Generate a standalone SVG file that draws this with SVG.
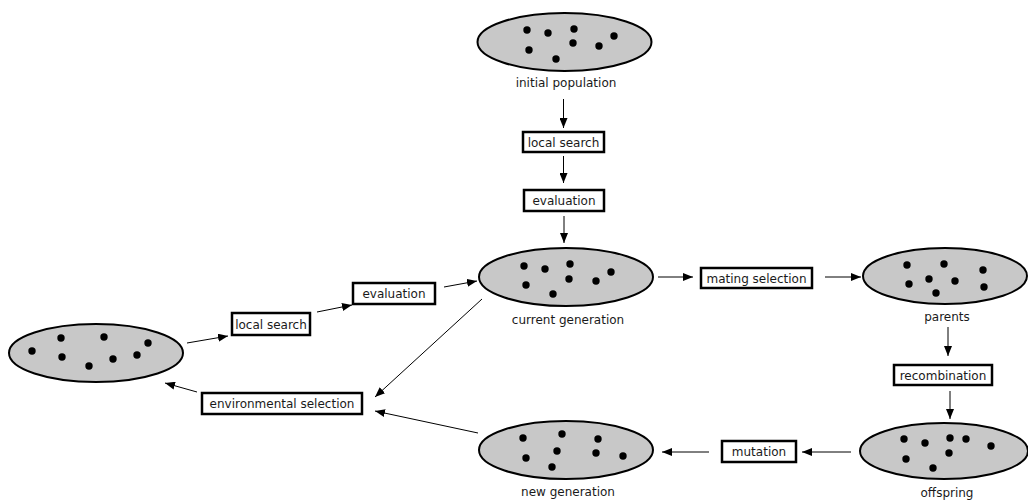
<svg xmlns="http://www.w3.org/2000/svg" width="1028" height="500" viewBox="0 0 1028 500">
<defs>
<marker id="ah" markerWidth="10" markerHeight="8" refX="10" refY="4" orient="auto" markerUnits="userSpaceOnUse">
<path d="M0,0 L10,4 L0,8 Z" fill="#000"/>
</marker>
<style>
.pop{fill:#c8c8c8;stroke:#000;stroke-width:2}
.dot{fill:#000}
.box{fill:#fff;stroke:#000;stroke-width:2.5}
.t{font-family:"DejaVu Sans",Verdana,sans-serif;font-size:12px;fill:#1a1a1a;text-anchor:middle}
.c{stroke:#000;stroke-width:1;fill:none;marker-end:url(#ah)}
circle{r:3.7px}
</style>
</defs>
<rect width="1028" height="500" fill="#fff"/>

<g id="initial-population">
<ellipse class="pop" cx="564.5" cy="42" rx="87" ry="29"/>
<circle class="dot" cx="527" cy="30" r="3.7"/><circle class="dot" cx="548" cy="33" r="3.7"/><circle class="dot" cx="574" cy="29" r="3.7"/><circle class="dot" cx="614" cy="36" r="3.7"/>
<circle class="dot" cx="529" cy="50" r="3.7"/><circle class="dot" cx="573" cy="43" r="3.7"/><circle class="dot" cx="599" cy="46" r="3.7"/><circle class="dot" cx="556" cy="59" r="3.7"/>
<text class="t" x="566" y="87">initial population</text>
</g>

<g id="box-local-search-1">
<rect class="box" x="523" y="132" width="81" height="20"/>
<text class="t" x="563.5" y="146.5">local search</text>
</g>
<g id="box-evaluation-1">
<rect class="box" x="524" y="190" width="80" height="21"/>
<text class="t" x="564" y="205">evaluation</text>
</g>

<g id="current-generation">
<ellipse class="pop" cx="566" cy="277" rx="87" ry="29"/>
<circle class="dot" cx="524" cy="266" r="3.7"/><circle class="dot" cx="545" cy="269" r="3.7"/><circle class="dot" cx="570" cy="264" r="3.7"/><circle class="dot" cx="611" cy="272" r="3.7"/>
<circle class="dot" cx="526" cy="285" r="3.7"/><circle class="dot" cx="569" cy="279" r="3.7"/><circle class="dot" cx="596" cy="281" r="3.7"/><circle class="dot" cx="553" cy="294" r="3.7"/>
<text class="t" x="568" y="324">current generation</text>
</g>

<g id="box-mating-selection">
<rect class="box" x="701" y="268" width="111" height="20"/>
<text class="t" x="756.5" y="282.5">mating selection</text>
</g>

<g id="parents">
<ellipse class="pop" cx="945" cy="276" rx="82" ry="28"/>
<circle class="dot" cx="907" cy="265" r="3.7"/><circle class="dot" cx="944" cy="264" r="3.7"/><circle class="dot" cx="983" cy="270" r="3.7"/><circle class="dot" cx="909" cy="284" r="3.7"/>
<circle class="dot" cx="929" cy="279" r="3.7"/><circle class="dot" cx="955" cy="281" r="3.7"/><circle class="dot" cx="984" cy="287" r="3.7"/><circle class="dot" cx="936" cy="293" r="3.7"/>
<text class="t" x="947" y="321">parents</text>
</g>

<g id="box-recombination">
<rect class="box" x="894" y="365" width="98" height="20"/>
<text class="t" x="943" y="379.5">recombination</text>
</g>

<g id="offspring">
<ellipse class="pop" cx="944" cy="451" rx="84" ry="28"/>
<circle class="dot" cx="904" cy="439" r="3.7"/><circle class="dot" cx="925" cy="443" r="3.7"/><circle class="dot" cx="950" cy="438" r="3.7"/><circle class="dot" cx="966" cy="439" r="3.7"/>
<circle class="dot" cx="991" cy="446" r="3.7"/><circle class="dot" cx="906" cy="459" r="3.7"/><circle class="dot" cx="949" cy="453" r="3.7"/><circle class="dot" cx="933" cy="468" r="3.7"/>
<text class="t" x="947" y="497">offspring</text>
</g>

<g id="box-mutation">
<rect class="box" x="722" y="441" width="74" height="21"/>
<text class="t" x="759" y="456">mutation</text>
</g>

<g id="new-generation">
<ellipse class="pop" cx="566" cy="450" rx="87" ry="29"/>
<circle class="dot" cx="523" cy="438" r="3.7"/><circle class="dot" cx="562" cy="434" r="3.7"/><circle class="dot" cx="598" cy="439" r="3.7"/><circle class="dot" cx="526" cy="458" r="3.7"/>
<circle class="dot" cx="557" cy="451" r="3.7"/><circle class="dot" cx="596" cy="453" r="3.7"/><circle class="dot" cx="623" cy="456" r="3.7"/><circle class="dot" cx="552" cy="467" r="3.7"/>
<text class="t" x="568" y="496">new generation</text>
</g>

<g id="box-environmental-selection">
<rect class="box" x="202" y="393" width="160" height="21"/>
<text class="t" x="282" y="408">environmental selection</text>
</g>

<g id="left-population">
<ellipse class="pop" cx="96" cy="353" rx="87" ry="29"/>
<circle class="dot" cx="32" cy="351" r="3.7"/><circle class="dot" cx="61" cy="338" r="3.7"/><circle class="dot" cx="104" cy="337" r="3.7"/><circle class="dot" cx="148" cy="343" r="3.7"/>
<circle class="dot" cx="62" cy="357" r="3.7"/><circle class="dot" cx="89" cy="366" r="3.7"/><circle class="dot" cx="113" cy="359" r="3.7"/><circle class="dot" cx="137" cy="355" r="3.7"/>
</g>

<g id="box-local-search-2">
<rect class="box" x="232" y="313" width="78" height="22"/>
<text class="t" x="271" y="328.5">local search</text>
</g>
<g id="box-evaluation-2">
<rect class="box" x="353" y="283" width="82" height="21"/>
<text class="t" x="394" y="298">evaluation</text>
</g>

<g id="connectors">
<line class="c" x1="563.5" y1="99" x2="563.5" y2="128"/>
<line class="c" x1="563.5" y1="156" x2="563.5" y2="183"/>
<line class="c" x1="564" y1="216" x2="564" y2="243"/>
<line class="c" x1="658" y1="277" x2="693" y2="277"/>
<line class="c" x1="825" y1="277" x2="861" y2="277"/>
<line class="c" x1="948" y1="327" x2="948" y2="356"/>
<line class="c" x1="950" y1="391" x2="950" y2="419"/>
<line class="c" x1="851" y1="452" x2="802" y2="452"/>
<line class="c" x1="709" y1="452" x2="662" y2="452"/>
<line class="c" x1="478" y1="433" x2="375" y2="411"/>
<line class="c" x1="482" y1="299" x2="375" y2="397"/>
<line class="c" x1="197" y1="392" x2="165" y2="383"/>
<line class="c" x1="187" y1="343" x2="228" y2="336"/>
<line class="c" x1="317" y1="312" x2="352" y2="305"/>
<line class="c" x1="444" y1="287" x2="477" y2="281"/>
</g>
</svg>
